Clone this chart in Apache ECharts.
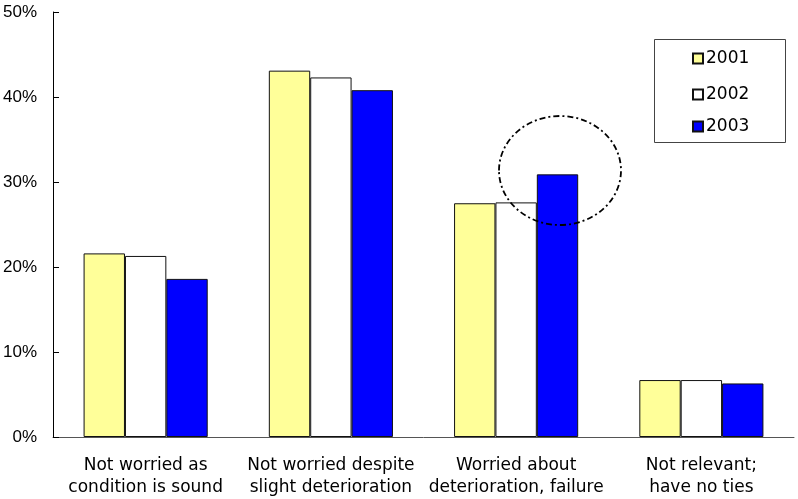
<!DOCTYPE html>
<html>
<head>
<meta charset="utf-8">
<script src="https://cdn.jsdelivr.net/npm/echarts@6/dist/echarts.min.js"></script>
<style>
  html, body { margin: 0; padding: 0; background: #fff; }
  #chart { width: 798px; height: 499px; }
</style>
</head>
<body>
<div id="chart"></div>
<script>
// Survey response shares (%) by year
const categories = [
  'Not worried as\ncondition is sound',
  'Not worried despite\nslight deterioration',
  'Worried about\ndeterioration, failure',
  'Not relevant;\nhave no ties'
];
const years = ['2001', '2002', '2003'];
const values2001 = [21.6, 43.1, 27.5, 6.7];
const values2002 = [21.3, 42.3, 27.6, 6.7];
const values2003 = [18.6, 40.8, 30.9, 6.3];
const yTicks = [0, 10, 20, 30, 40, 50];

const colors = ['#FFFF99', '#FFFFFF', '#0000FF'];
const seriesValues = [values2001, values2002, values2003];

const chart = echarts.init(document.getElementById('chart'), null, { renderer: 'canvas' });

const legendTops = [50, 86, 118];

chart.setOption({
  animation: false,
  backgroundColor: '#fff',
  grid: { left: 52, right: 4, top: 12, bottom: 60, containLabel: false },
  xAxis: {
    type: 'category',
    data: categories,
    axisLine: { lineStyle: { color: '#555', width: 1 } },
    axisTick: { inside: true, length: 6, lineStyle: { color: '#333' } },
    axisLabel: {
      margin: 18,
      color: '#000',
      fontFamily: 'DejaVu Sans',
      fontSize: 17,
      lineHeight: 22,
      interval: 0
    }
  },
  yAxis: {
    type: 'value',
    min: yTicks[0],
    max: yTicks[yTicks.length - 1],
    interval: 10,
    splitLine: { show: false },
    axisLine: { show: true, lineStyle: { color: '#000', width: 1 } },
    axisTick: { show: true, inside: true, length: 6, lineStyle: { color: '#000' } },
    axisLabel: {
      formatter: '{value}%',
      margin: 16,
      color: '#000',
      fontFamily: 'Liberation Sans',
      fontSize: 17
    }
  },
  legend: years.map((y, i) => ({
    data: [{ name: y, icon: 'rect' }],
    left: 692,
    top: legendTops[i],
    padding: 0,
    itemWidth: 10,
    itemHeight: 10,
    itemGap: 0,
    selectedMode: false,
    textStyle: { fontFamily: 'DejaVu Sans', fontSize: 17, color: '#000', padding: [0, 0, 0, -2] }
  })),
  series: years.map((y, i) => ({
    name: y,
    type: 'bar',
    data: seriesValues[i],
    barGap: '0%',
    barCategoryGap: '33%',
    itemStyle: { color: colors[i], borderColor: '#111', borderWidth: 1 }
  })),
  graphic: [
    {
      // legend frame
      type: 'rect',
      shape: { x: 654.5, y: 39.5, width: 131, height: 103 },
      style: { fill: null, stroke: '#444', lineWidth: 1 },
      z: 10
    },
    {
      // highlight ring around the 2003 "worried" bar
      type: 'ellipse',
      shape: { cx: 560, cy: 170.5, rx: 61, ry: 54.5 },
      style: { fill: null, stroke: '#000', lineWidth: 1.8, lineDash: [6, 3, 2, 3] },
      z: 20
    }
  ]
});
</script>
</body>
</html>
